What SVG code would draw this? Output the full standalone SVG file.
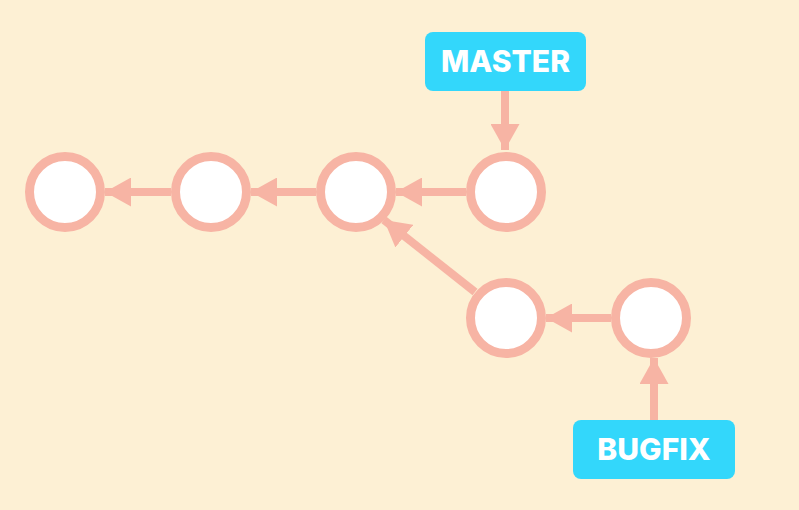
<svg xmlns="http://www.w3.org/2000/svg" width="799" height="510" viewBox="0 0 799 510">
  <style>
    .commit { fill: #ffffff; stroke: #f7b4a4; stroke-width: 9; }
    .edge { stroke: #f7b4a4; stroke-width: 8; fill: none; marker-end: url(#head); }
    .tag { fill: #33d7fb; }
    .tag-text { font-family: Inter, "Open Sans", "Liberation Sans", sans-serif; font-weight: 800; font-size: 30px; fill: #ffffff; text-anchor: middle; }
  </style>
  <defs>
    <marker id="head" markerUnits="userSpaceOnUse" markerWidth="27" markerHeight="29" refX="26" refY="14.5" orient="auto">
      <path d="M0,0 L26,14.5 L0,29 z" fill="#f7b4a4"/>
    </marker>
  </defs>
  <rect width="799" height="510" fill="#fdf0d4"/>

  <g id="connectors">
    <line class="edge" x1="171" y1="192" x2="105" y2="192"/>
    <line class="edge" x1="316" y1="192" x2="251" y2="192"/>
    <line class="edge" x1="466" y1="192" x2="396" y2="192"/>
    <line class="edge" x1="611" y1="318" x2="546" y2="318"/>
    <line class="edge" x1="475" y1="292" x2="384" y2="220"/>
    <line class="edge" x1="505" y1="91" x2="505" y2="150"/>
    <line class="edge" x1="654" y1="420" x2="654" y2="358"/>
  </g>

  <g id="c1"><circle class="commit" cx="65" cy="192" r="35.5"/></g>
  <g id="c2"><circle class="commit" cx="211" cy="192" r="35.5"/></g>
  <g id="c3"><circle class="commit" cx="356" cy="192" r="35.5"/></g>
  <g id="c4"><circle class="commit" cx="506" cy="192" r="35.5"/></g>
  <g id="c5"><circle class="commit" cx="506" cy="318" r="35.5"/></g>
  <g id="c6"><circle class="commit" cx="651" cy="318" r="35.5"/></g>

  <g id="master">
    <rect class="tag" x="425" y="32" width="161" height="59" rx="8"/>
    <text class="tag-text" x="505.5" y="72">MASTER</text>
  </g>
  <g id="bugfix">
    <rect class="tag" x="573" y="420" width="162" height="59" rx="8"/>
    <text class="tag-text" x="654" y="460">BUGFIX</text>
  </g>
</svg>
